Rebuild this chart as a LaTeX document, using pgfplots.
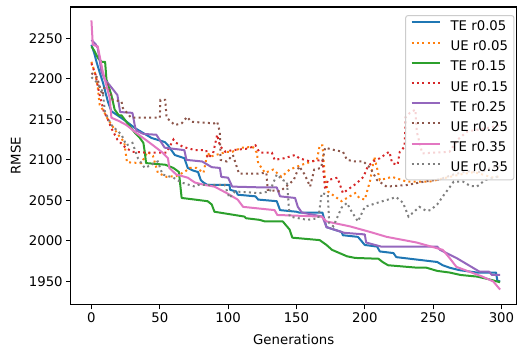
\documentclass[border=0pt]{standalone}
\usepackage{fontspec}
\setmainfont{DejaVu Sans}
\usepackage{pgfplots}
\pgfplotsset{compat=1.18}
\definecolor{tblue}{HTML}{1F77B4}
\definecolor{torange}{HTML}{FF7F0E}
\definecolor{tgreen}{HTML}{2CA02C}
\definecolor{tred}{HTML}{D62728}
\definecolor{tpurple}{HTML}{9467BD}
\definecolor{tbrown}{HTML}{8C564B}
\definecolor{tpink}{HTML}{E377C2}
\definecolor{tgray}{HTML}{7F7F7F}
\newcommand{\mfont}{\fontsize{13.3}{16}\selectfont}
\begin{document}
\begin{tikzpicture}
\begin{axis}[
  scale only axis, width=446pt, height=298pt,
  xmin=-15, xmax=311, ymin=1921.3, ymax=2288.6,
  xtick={0,50,100,150,200,250,300},
  ytick={1950,2000,2050,2100,2150,2200,2250},
  tick align=outside, tick pos=left, major tick length=4.7pt,
  axis line style={line width=1.07pt, black},
  every tick/.style={line width=1.07pt, black},
  tick label style={font=\mfont},
  /pgf/number format/assume math mode=true,
  /pgf/number format/1000 sep={},
  xlabel={Generations}, ylabel={RMSE},
  label style={font=\mfont},
  xlabel style={at={(axis description cs:0.5,-0.1342)}, anchor=base},
  ylabel style={at={(axis description cs:-0.1128,0.5)}, anchor=base},
  legend cell align=left,
  legend image code/.code={\draw[#1] (0pt,4.6pt) -- (28pt,4.6pt);},
  legend style={at={(axis description cs:0.9955,0.973)}, anchor=north east,
    draw=black!20, line width=1pt, rounded corners=2.5pt, fill=white, fill opacity=0.8,
    draw opacity=1, text opacity=1, font=\mfont,
    inner xsep=5pt, inner ysep=5pt, column sep=9pt, row sep=7.2pt,
    nodes={inner xsep=1pt, inner ysep=0pt, text height=10pt, text depth=3pt}},
  solid line/.style={line width=2pt, line join=round},
  dot line/.style={line width=2pt, dash pattern=on 2pt off 3.3pt},
]
% TE r0.05
\addplot[tblue, solid line] coordinates {
(0,2242) (2,2232) (3.7,2221) (6,2208) (8.3,2196) (10,2185) (12,2172) (14.6,2160) (19,2155) (25,2148) (32,2139) (38,2133) (44,2127) (53.6,2122) (56,2118) (61,2106) (68,2102) (70.5,2090) (74,2087) (78,2085) (80,2075) (82,2072) (85,2069) (101,2069) (101.5,2063) (106,2061) (107,2057) (120,2055) (122,2051) (135.6,2049) (138,2038) (150,2036) (152,2035) (169,2035) (172,2017) (183,2011) (184,2007) (195,2005) (200,1995) (209,1993) (211,1987) (221,1985) (223,1980) (253,1974) (257,1970) (262,1967) (269,1964) (282,1961) (296,1961) (297,1951) (299,1950)};
% UE r0.05
\addplot[torange, dot line] coordinates {
(0,2221) (3,2205) (4.6,2190) (6,2168) (9,2160) (12,2150) (16,2140) (20,2130) (24,2122) (26,2097) (36.6,2096) (41,2110) (45,2105) (48.6,2084) (55,2079) (62,2080) (68,2085) (72,2090) (77,2090) (82,2084) (85,2109) (87,2104) (99,2110) (103,2110) (110,2115) (118,2116) (121,2109) (122,2096) (127,2084) (133,2088) (139,2079) (145,2088) (154,2094) (165,2100) (167,2118) (169,2118) (171,2075) (173,2061) (183,2049) (189,2055) (193,2059) (196,2053) (200,2051) (204,2075) (207,2104) (211,2075) (220,2079) (231,2073) (247,2073) (257,2077) (270,2082) (280,2085) (294,2078) (299,2080)};
% TE r0.15
\addplot[tgreen, solid line] coordinates {
(0,2240) (2,2235) (5,2225) (7.5,2221) (10,2221) (11,2199) (14.6,2180) (17,2162) (20,2155) (22,2155) (26,2146) (32,2133) (35,2128) (38,2121) (39,2110) (40,2096) (54,2094) (60,2090) (64,2085) (66,2053) (75.7,2051) (85,2049) (88,2045) (90,2036) (112,2030) (113,2028) (123,2026) (127,2024) (140,2024) (145,2014) (147,2004) (167,2001) (172,1995) (176,1989) (187,1981) (193,1979) (210,1978) (213,1974) (217,1970) (238,1967) (245,1967) (253,1963) (262,1961) (270,1958) (282,1956) (290,1953) (299,1949)};
% UE r0.15
\addplot[tred, dot line] coordinates {
(0,2219) (3,2205) (6,2180) (9,2160) (12,2150) (14.6,2139) (19,2125) (25,2115) (30,2110) (39,2109) (55,2109) (60,2125) (61,2122) (67,2116) (75.7,2112) (84,2112) (85,2102) (89,2108) (92,2131) (94,2117) (98,2110) (103,2112) (115,2114) (120,2118) (123,2109) (132,2109) (134,2100) (141,2102) (149,2106) (152,2102) (160,2098) (169,2100) (171,2063) (173,2075) (180,2078) (184,2059) (189,2065) (194,2071) (199,2079) (202,2091) (206,2098) (211,2102) (216,2108) (218,2110) (220,2096) (224,2094) (225.6,2110) (229,2116) (230,2153) (233,2158) (237,2162) (238,2135) (242,2108) (262,2110) (268,2125) (275,2135) (285,2138) (292,2140) (299,2143)};
% TE r0.25
\addplot[tpurple, solid line] coordinates {
(0,2248) (3,2243) (4.6,2238) (7.3,2209) (9.8,2199) (13.4,2192) (19,2180) (21,2159) (30,2158) (32,2140) (33,2136) (38,2132) (47.5,2131) (53.6,2115) (68,2112) (69.5,2100) (81,2098) (88,2091) (94,2090) (95,2079) (100,2078) (103,2067) (125,2066) (135.6,2066) (138,2055) (149,2053) (151,2042) (154,2035) (169,2030) (172,2017) (185,2010) (200,2008) (201,1998) (212,1993) (253,1993) (255,1989) (267,1979) (279,1967) (284,1962) (291,1962) (293,1958) (299,1958)};
% UE r0.25
\addplot[tbrown, dot line] coordinates {
(0,2207) (4,2202) (8,2180) (11,2197) (15.6,2174) (22,2172) (23,2164) (29,2152) (32,2152) (50,2152) (50.5,2174) (54,2174) (55,2152) (61,2143) (66,2145) (70,2153) (73,2147) (90,2145) (92,2147) (94,2134) (94.5,2100) (99,2098) (103.5,2106) (107,2088) (108,2083) (121,2083) (128,2084) (129,2063) (138,2061) (148,2075) (152,2092) (156,2082) (160,2067) (163,2088) (168,2090) (171,2115) (178,2112) (184,2110) (187,2100) (193,2098) (199,2098) (204,2090) (209,2075) (216,2067) (231,2069) (243,2073) (255,2076) (265,2082) (275,2086) (285,2085) (292,2090) (299,2092)};
% TE r0.35
\addplot[tpink, solid line] coordinates {
(0,2272) (1,2242) (4.6,2240) (8.3,2209) (13.4,2176) (14.6,2152) (20,2148) (25.6,2143) (33,2133) (42.7,2121) (52,2109) (56,2102) (57,2090) (62,2082) (70.5,2078) (75.7,2072) (83,2069) (90,2067) (99,2059) (107,2051) (111,2042) (134,2038) (136,2032) (168.5,2030) (172,2024) (189,2018) (204,2011) (216,2005) (238,1998) (257,1989) (262,1979) (267,1968) (286,1956) (294,1950) (299,1940)};
% UE r0.35
\addplot[tgray, dot line] coordinates {
(0,2202) (3.7,2196) (8.3,2184) (9.8,2160) (14.6,2143) (22,2131) (25.6,2118) (30,2121) (34,2102) (39,2090) (44,2094) (48.5,2098) (52,2082) (60,2078) (66,2072) (75.7,2067) (78,2069) (97.6,2069) (101,2053) (105,2061) (123,2059) (130.5,2061) (135.6,2082) (140,2075) (143,2073) (145,2030) (158,2026) (166,2028) (168.5,2059) (173,2057) (174,2022) (177,2018) (183,2041) (187,2047) (189,2040) (195,2024) (200,2042) (211,2048) (223,2054) (228,2047) (232,2030) (240,2042) (245,2037) (248,2038) (253,2045) (258,2057) (262,2066) (265,2073) (272,2073) (277,2068) (282,2067) (288,2075) (294,2078) (299,2080)};
\legend{TE r0.05, UE r0.05, TE r0.15, UE r0.15, TE r0.25, UE r0.25, TE r0.35, UE r0.35}
\end{axis}
\pgfresetboundingbox
\path[use as bounding box] ([xshift=-71pt,yshift=-46pt]current axis.south west) rectangle ([xshift=0.5pt,yshift=7pt]current axis.north east);
\end{tikzpicture}
\end{document}
